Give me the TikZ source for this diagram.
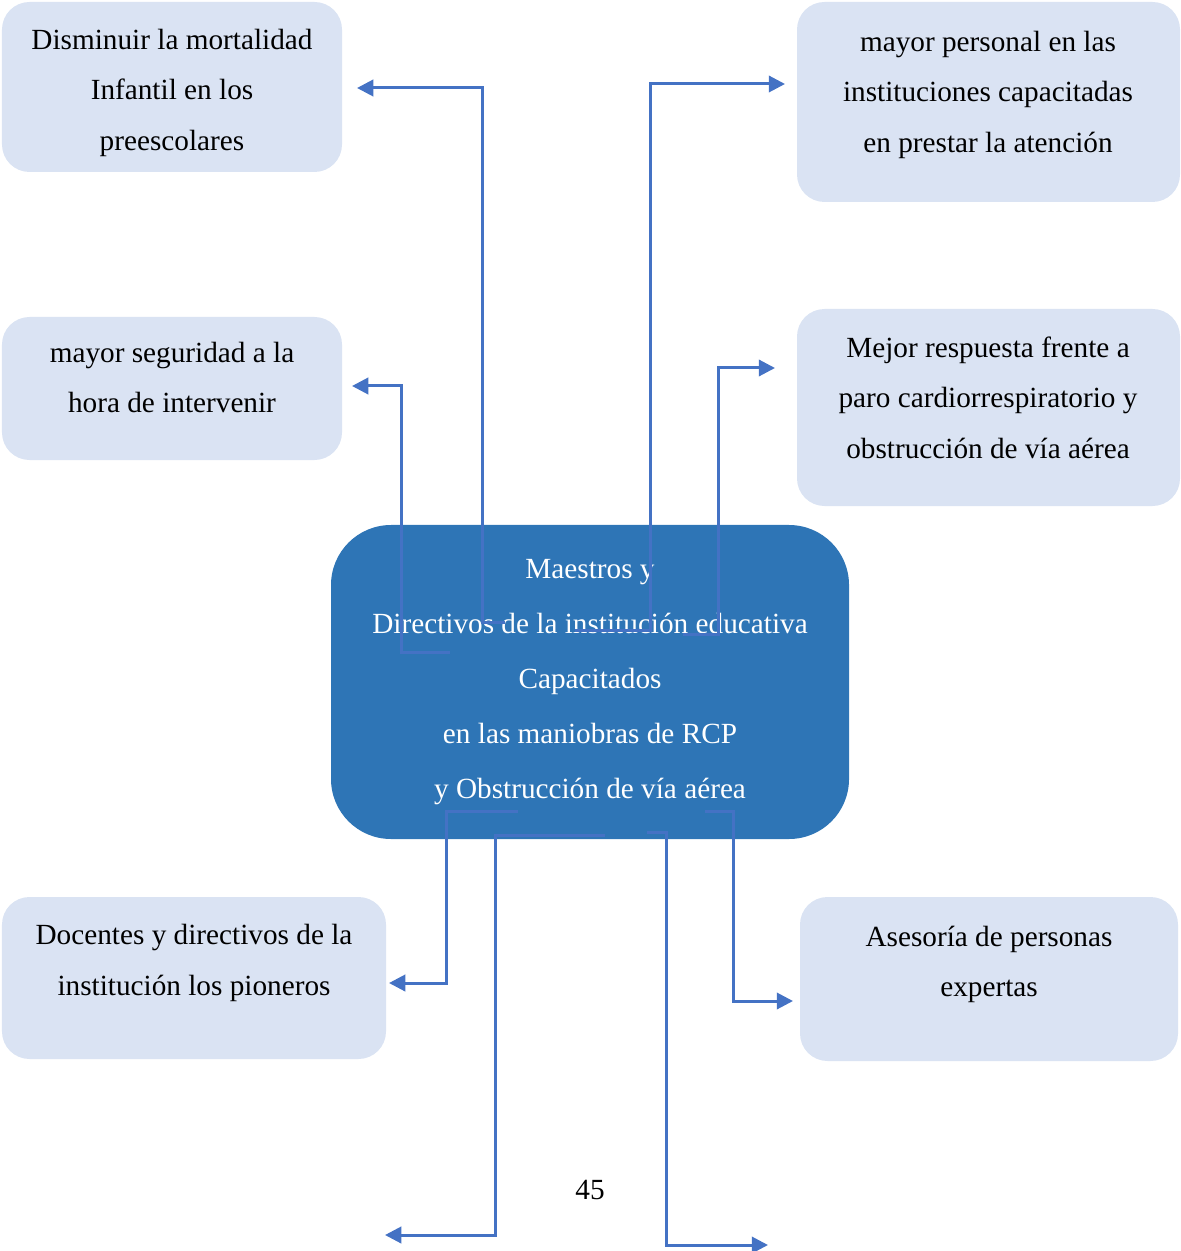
\documentclass[tikz,border=0pt]{standalone}
\usepackage{fontspec}
\setmainfont{Liberation Serif}
\usepackage{tikz}
\usetikzlibrary{arrows.meta,shapes.misc}
\definecolor{boxLight}{HTML}{DAE3F3}
\definecolor{boxDark}{HTML}{2E75B6}
\definecolor{lineBlue}{HTML}{4472C4}
\tikzset{lb/.style={rectangle, rounded corners=11pt, fill=boxLight, inner sep=0pt}}
\tikzset{db/.style={rectangle, rounded corners=24pt, fill=boxDark, inner sep=0pt}}
\tikzset{tx/.style={align=center, inner sep=0pt, font=\fontsize{11.7}{20.2}\selectfont}}
\tikzset{ar/.style={draw, line width=1.2pt, lineBlue, -{Triangle[length=6.5pt,width=6.5pt]}}}

\begin{document}
\begin{tikzpicture}[x=0.4pt,y=-0.4pt]
        \useasboundingbox (0,0) rectangle (1180,1251);
        %% boxes
        \node (dis) at (172,87) [lb, minimum width=136pt, minimum height=68pt] {};
        \node (per) at (988.5,102) [lb, minimum width=153.2pt, minimum height=80pt] {};
        \node (seg) at (172,388.5) [lb, minimum width=136pt, minimum height=57.2pt] {};
        \node (mej) at (988.5,407.5) [lb, minimum width=153.2pt, minimum height=78.8pt] {};
        \node (cen) at (590,682) [db, minimum width=207.2pt, minimum height=125.6pt] {};
        \node (doc) at (194,978) [lb, minimum width=153.6pt, minimum height=64.8pt] {};
        \node (ase) at (989,979) [lb, minimum width=151.2pt, minimum height=65.6pt] {};
        %% texts
        \node (disT) at (172,92.5) [tx] {Disminuir la mortalidad\\Infantil en los\\preescolares};
        \node (perT) at (988,94.5) [tx] {mayor personal en las\\instituciones capacitadas\\en prestar la atención};
        \node (segT) at (172,377.5) [tx] {mayor seguridad a la\\hora de intervenir};
        \node (mejT) at (988,397.5) [tx] {Mejor respuesta frente a\\paro cardiorrespiratorio y\\obstrucción de vía aérea};
        \node (cenT) at (590,682) [tx, white, font=\fontsize{11.7}{22}\selectfont] {Maestros y\\Directivos de la institución educativa\\Capacitados\\en las maniobras de RCP\\y Obstrucción de vía aérea};
        \node (docT) at (194,963) [tx] {Docentes y directivos de la\\institución los pioneros};
        \node (aseT) at (989,964.5) [tx] {Asesoría de personas\\expertas};
        \node (pag) at (590,1190) [tx] {45};
        %% connector ends
        \coordinate (sDis) at (505,622);  \coordinate (eDis) at (357,88);
        \coordinate (sSeg) at (450,652);  \coordinate (eSeg) at (352,386);
        \coordinate (sPer) at (575,630);  \coordinate (ePer) at (785,84);
        \coordinate (sMej) at (683,634);  \coordinate (eMej) at (775,368);
        \coordinate (sDoc) at (518,811);  \coordinate (eDoc) at (389,983);
        \coordinate (sBl) at (605,835);   \coordinate (eBl) at (385,1235);
        \coordinate (sBr) at (647,832);   \coordinate (eBr) at (768,1245);
        \coordinate (sAse) at (705,811);  \coordinate (eAse) at (793,1001);
        \draw [ar] (sDis) -- (482,622) |- (eDis);
        \draw [ar] (sSeg) -- (401,652) |- (eSeg);
        \draw [ar] (sPer) -- (650,630) |- (ePer);
        \draw [ar] (sMej) -- (718,634) |- (eMej);
        \draw [ar] (sDoc) -- (446,811) |- (eDoc);
        \draw [ar] (sBl) -- (495,835) |- (eBl);
        \draw [ar] (sBr) -- (666,832) |- (eBr);
        \draw [ar] (sAse) -- (733,811) |- (eAse);
\end{tikzpicture}
\end{document}
